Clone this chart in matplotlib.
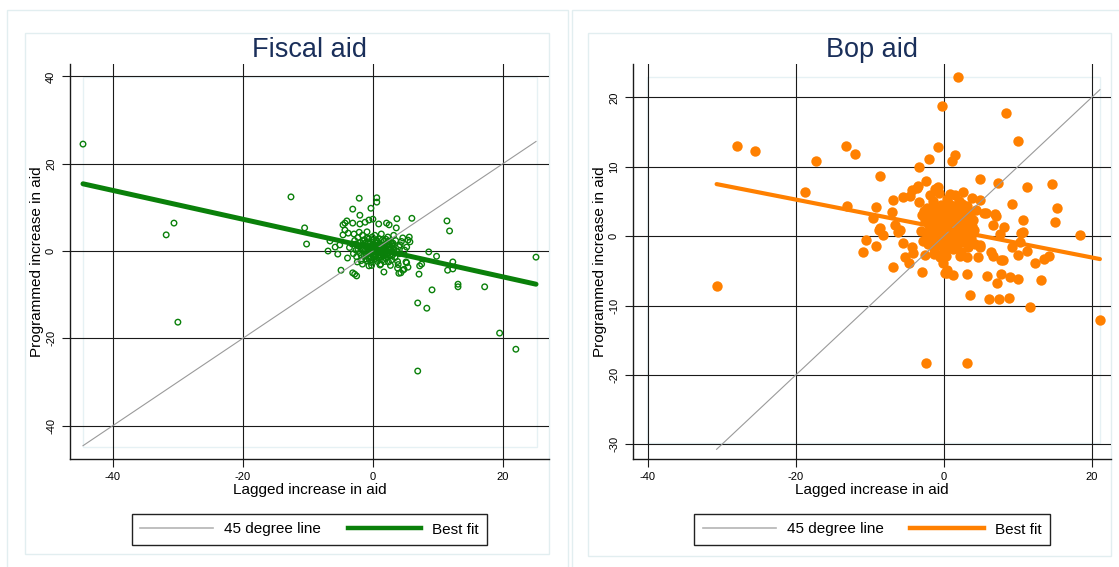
import matplotlib.pyplot as plt
from matplotlib.lines import Line2D
from matplotlib.patches import Rectangle

plt.rcParams['font.family'] = ['Liberation Sans', 'DejaVu Sans']
plt.rcParams['axes.unicode_minus'] = False

W, H = 1119, 567

# Fiscal aid: (lagged increase, programmed increase)
fiscal_outer = [
    (-44.6, 24.5), (-31.8, 3.7), (-30.6, 6.4), (-30.0, -16.3), (-12.6, 12.4),
    (-10.5, 5.3), (-10.2, 1.6), (-6.9, 0.0), (-5.8, 0.9), (-5.4, -0.7),
    (-4.9, -4.4), (-3.9, -1.6), (-3.1, -5.0), (-2.8, -5.3), (-2.5, -5.7),
    (-2.1, 12.1), (0.6, 12.2), (0.6, 11.2), (-3.1, 9.6), (-0.3, 9.8),
    (-2.0, 8.2), (6.0, 7.5), (3.7, 7.4), (11.4, 6.9), (11.8, 4.6),
    (8.6, -0.2), (9.8, -1.2), (12.3, -2.5), (11.5, -4.4), (12.3, -4.1),
    (7.1, -5.3), (13.1, -7.6), (13.1, -8.2), (9.1, -8.9), (17.2, -8.2),
    (6.9, -11.9), (8.3, -13.1), (19.5, -18.8), (22.0, -22.5), (6.9, -27.5),
    (25.1, -1.4), (1.7, -4.8), (4.0, -5.1), (4.6, -4.4), (5.2, -2.7),
    (5.4, 2.5), (5.6, 3.2), (5.2, 0.9), (7.5, -3.0), (7.2, -3.4),
    (4.8, -4.2), (5.7, 2.1), (-4.6, 6.0), (-4.3, 6.4), (-4.0, 6.9),
    (-3.1, 6.4), (-2.0, 6.2), (-1.2, 6.6), (-0.6, 7.1), (0.0, 7.3),
    (0.9, 6.2), (2.1, 6.4), (2.5, 6.0), (3.6, 5.3), (-4.3, 4.8),
    (-4.6, 3.7), (-3.8, 4.1), (-6.6, 2.3), (-5.1, 1.4), (-0.6, -3.4),
    (-0.2, -2.1), (1.1, -3.2), (3.8, -3.9), (4.3, -5.0), (5.4, -3.7),
    (5.1, -2.5), (4.2, 1.4), (4.6, 3.0), (4.9, 0.2), (2.9, 1.8),
]
fiscal_core = [
    (-2.8, 2.4), (-2.6, 0.2), (-2.5, -1.3), (-2.3, 3.1), (-2.2, 1.1), (-2.0, -0.4),
    (-1.9, 2.0), (-1.8, -2.2), (-1.7, 0.7), (-1.6, 3.6), (-1.5, 1.5), (-1.4, -0.9),
    (-1.3, 2.6), (-1.2, 0.1), (-1.1, -1.8), (-1.0, 1.2), (-0.9, 3.0), (-0.8, -0.3),
    (-0.7, 2.1), (-0.6, 0.6), (-0.5, -1.2), (-0.4, 1.7), (-0.3, -2.6), (-0.2, 0.3),
    (-0.1, 2.5), (0.0, -0.7), (0.1, 1.0), (0.2, -1.9), (0.3, 0.0), (0.4, 1.9),
    (0.5, -0.9), (0.6, 0.6), (0.7, -2.4), (0.8, 1.4), (0.9, -0.2), (1.0, 2.8),
    (1.1, -1.4), (1.2, 0.4), (1.3, -0.6), (1.4, 1.1), (1.5, -2.0), (1.6, 0.0),
    (1.7, 2.2), (1.8, -0.9), (1.9, 0.8), (2.0, -1.7), (2.1, 0.2), (2.2, 1.6),
    (2.3, -0.4), (2.4, -2.5), (2.5, 0.9), (2.6, -1.1), (2.7, 2.0), (2.8, -0.2),
    (2.9, -2.0), (3.0, 1.2), (3.1, -0.8), (3.2, 0.4), (3.4, -1.5), (3.5, 2.4),
    (3.7, 0.0), (3.8, -2.4), (4.0, 1.0), (4.1, -0.6), (-3.2, 1.6), (-3.0, -0.6),
    (-2.9, 3.9), (-2.1, 4.3), (-0.9, 4.4), (0.3, 3.6), (1.3, 3.9), (2.3, 3.2),
    (3.2, 3.6), (-1.6, -3.0), (-0.2, -3.3), (1.2, -3.0), (2.7, -3.3), (3.9, -3.1),
    (0.4, -1.3), (0.9, 0.9), (1.7, -0.3), (-0.3, 0.9), (0.6, 2.3), (1.1, 1.6),
    (-1.9, 1.2), (-1.0, -0.5), (2.0, 2.7), (-0.6, -1.8), (0.0, 0.4), (1.5, 0.6),
    (1.0, -0.9), (0.2, 1.5), (2.6, 0.5), (-0.4, -0.4), (-1.4, 0.4), (0.8, -0.4),
    (1.9, 1.3), (-2.4, -2.5), (4.4, 2.2), (-3.6, 0.8),
    (-1.6, 0.2), (-1.2, 1.8), (-0.8, 0.9), (-0.5, 0.0), (-0.2, 1.3), (0.1, -0.3),
    (0.4, 0.8), (0.7, 1.9), (1.0, 0.2), (1.3, 1.4), (1.6, -1.0), (1.9, 0.1),
    (2.2, -1.2), (2.5, 1.5), (2.8, 0.4), (3.1, 1.8), (-1.8, -1.0), (-1.1, -1.1),
    (-0.4, -1.6), (0.3, -1.1), (0.9, -1.6), (1.4, -0.2), (2.1, -0.8), (2.9, -1.1),
    (-2.3, 0.5), (-1.5, 2.4), (-0.6, 2.8), (0.5, 2.6), (1.5, 2.6), (2.4, 2.3),
    (-0.9, -2.2), (0.6, -1.9), (1.8, -2.4), (3.3, -0.3), (-2.6, 1.6), (-0.1, 3.2),
    (0.8, 0.1), (-0.3, -0.2), (1.2, 1.0), (2.0, 0.6),
]
fiscal_fit_x = [-44.6, 25.1]
fiscal_fit_y = [15.4, -7.6]

# Balance of payments aid
bop_outer = [
    (-30.7, -7.2), (-28.0, 13.0), (-25.5, 12.2), (-18.8, 6.3), (-17.3, 10.8),
    (-13.2, 13.0), (-13.1, 4.3), (-12.0, 11.8), (1.9, 22.9), (-0.3, 18.7),
    (8.4, 17.7), (10.0, 13.7), (-0.8, 12.8), (-2.0, 11.1), (-3.4, 10.0),
    (1.1, 10.8), (1.5, 11.7), (-8.6, 8.6), (4.9, 8.2), (7.3, 7.6),
    (11.2, 7.1), (14.6, 7.5), (9.2, 4.6), (15.3, 4.0), (15.0, 2.0),
    (10.7, 2.3), (10.7, 0.6), (18.4, 0.1), (-9.1, 4.2), (-9.6, 2.6),
    (-8.8, 0.9), (-8.2, 0.1), (-10.5, -0.6), (-9.2, -1.4), (-10.9, -2.3),
    (-6.9, -4.5), (-5.3, -3.0), (-4.7, -3.9), (-3.0, -5.2), (0.1, -5.3),
    (1.2, -5.6), (0.4, -4.9), (3.1, -5.5), (3.5, -8.5), (6.1, -9.1),
    (7.4, -9.1), (8.8, -8.9), (11.6, -10.2), (13.2, -6.3), (21.1, -12.1),
    (-2.4, -18.3), (3.2, -18.3), (13.5, -3.3), (14.2, -2.9), (12.3, -3.9),
    (11.2, -2.2), (10.0, -2.7), (9.2, -1.6), (7.8, -3.4), (6.6, -2.8),
    (6.4, -2.3), (4.6, -3.0), (5.9, -5.8), (7.2, -6.8), (7.8, -5.5),
    (8.9, -5.9), (10.0, -6.1), (10.3, -0.8), (10.4, 0.4), (8.1, 1.3),
    (7.0, 2.9), (5.7, 3.3), (6.6, 1.6), (7.6, 0.3), (4.9, 5.2),
    (3.8, 5.5), (2.6, 6.3), (1.5, 5.9), (-0.8, 7.1), (-2.4, 7.9),
    (-3.5, 7.2), (-4.3, 6.6), (-5.5, 5.6), (-6.9, 5.2), (-7.0, 3.5),
    (-6.6, 1.6), (-5.9, 0.9), (-5.5, -1.0), (-4.3, -1.6), (-4.2, -2.4),
    (-2.6, -2.7), (-0.5, -3.0), (-0.1, -3.9), (3.2, -3.0), (4.9, -1.3),
    (-3.6, 6.9), (-4.6, 5.8), (-8.6, 1.2), (-1.2, 6.8), (-6.2, 0.6),
    (0.5, -5.3), (-0.3, -2.5), (6.9, 3.2), (5.5, 3.3), (8.0, -3.5),
    (4.9, -1.6),
]
bop_core = [
    (-2.6, 2.3), (-2.4, 0.5), (-2.3, 4.1), (-2.1, -1.2), (-2.0, 1.6), (-1.8, 3.3),
    (-1.7, -0.1), (-1.5, 5.0), (-1.4, 2.0), (-1.3, -1.9), (-1.1, 0.9), (-1.0, 3.8),
    (-0.9, -0.8), (-0.7, 2.6), (-0.6, 1.1), (-0.4, 4.5), (-0.3, -1.4), (-0.2, 0.3),
    (0.0, 2.9), (0.1, -2.2), (0.2, 1.7), (0.4, 5.3), (0.5, 0.0), (0.6, 3.5),
    (0.8, -1.0), (0.9, 2.2), (1.0, 0.8), (1.2, 4.3), (1.3, -1.8), (1.4, 1.4),
    (1.6, 3.0), (1.7, -0.4), (1.9, 2.1), (2.0, 5.0), (2.1, 0.5), (2.3, -2.3),
    (2.4, 3.7), (2.5, 1.2), (2.7, -0.9), (2.8, 2.6), (3.0, 0.1), (3.1, 4.3),
    (3.3, -1.6), (3.4, 1.8), (3.6, 3.1), (3.7, -0.2), (3.9, 2.4), (4.1, 0.9),
    (4.2, -1.1), (4.4, 3.8), (-3.0, 3.0), (-3.1, 0.8), (-2.8, -0.7), (-3.3, 4.9),
    (-1.9, 6.0), (-0.7, 6.2), (0.9, 6.1), (2.2, -2.9), (0.3, -2.9), (-1.3, -2.6),
    (1.0, 1.9), (0.3, 0.9), (1.8, 0.9), (-0.5, 1.9), (2.8, 0.9), (0.7, 2.9),
    (-1.0, 1.5), (1.5, -0.9), (-0.2, 3.6), (1.7, 3.9),
    (-2.0, 0.4), (-1.5, 1.2), (-1.2, 2.9), (-0.8, 0.2), (-0.3, 1.1), (0.1, 4.0),
    (0.5, 1.3), (0.9, -0.2), (1.3, 2.7), (1.8, -1.5), (2.2, 1.8), (2.6, -0.2),
    (3.1, 2.9), (3.5, 0.6), (-2.7, 3.6), (-1.6, 4.2), (-0.4, -0.5), (0.7, 4.6),
    (2.5, 4.6), (3.8, 1.4), (-0.1, -1.0), (1.1, -1.1), (0.0, 2.2), (1.4, 0.4),
    (2.0, 3.1), (-1.1, -0.3), (-2.2, 2.9), (3.3, 3.6),
]
bop_fit_x = [-30.7, 21.1]
bop_fit_y = [7.5, -3.3]

titles = ["Fiscal aid", "Bop aid"]
x_label = "Lagged increase in aid"
y_label = "Programmed increase in aid"
legend_labels = ["45 degree line", "Best fit"]

GREEN = "#0a800a"
ORANGE = "#ff8000"
NAVY = "#1a2f5a"
GRAY45 = "#9a9a9a"
FRAME = "#e2eef0"

fig = plt.figure(figsize=(W / 100, H / 100), dpi=100)
fig.patch.set_facecolor("white")


def box(x0, y0, x1, y1, color=FRAME, lw=1.0):
    fig.add_artist(Rectangle((x0 / W, 1 - y1 / H), (x1 - x0) / W, (y1 - y0) / H,
                             transform=fig.transFigure, fill=False,
                             edgecolor=color, linewidth=lw, zorder=0))


def panel(px, xlim, ylim, xticks, yticks, points, fit_x, fit_y, color, hollow,
          title, region, inner):
    l, t, r, b = px
    ax = fig.add_axes([l / W, 1 - b / H, (r - l) / W, (b - t) / H])
    ax.set_facecolor("none")
    ax.set_xlim(*xlim)
    ax.set_ylim(*ylim)
    ax.set_xticks(xticks)
    ax.set_yticks(yticks)
    ax.grid(True, color="#1a1a1a", linewidth=0.8)
    ax.set_axisbelow(True)
    for s in ("top", "right"):
        ax.spines[s].set_visible(False)
    for s in ("left", "bottom"):
        ax.spines[s].set_linewidth(1.0)
        ax.spines[s].set_color("#1a1a1a")
    ax.tick_params(length=5.5, width=0.8, color="#1a1a1a", labelsize=8, pad=4)
    ax.tick_params(axis="y", labelrotation=90, pad=4.5)
    for lab in ax.get_yticklabels():
        lab.set_va("center")

    xs = [p[0] for p in points]
    ys = [p[1] for p in points]
    if hollow:
        ax.scatter(xs, ys, s=16, facecolors="none", edgecolors=color,
                   linewidths=1.0, zorder=3)
    else:
        ax.scatter(xs, ys, s=56, color=color, linewidths=0, zorder=3)

    line_x = [min(xs), max(xs)]
    ax.plot(line_x, line_x, color=GRAY45, linewidth=0.8, zorder=4)
    ax.plot(fit_x, fit_y, color=color, linewidth=3.6 if hollow else 3.0,
            solid_capstyle="round", zorder=5)

    ax.set_xlabel(x_label, fontsize=11)
    ax.xaxis.set_label_coords(0.5, -0.062)
    ax.set_ylabel(y_label, fontsize=11)
    ax.yaxis.set_label_coords(-26 / (r - l), 0.5)

    cx = (l + r) / 2
    fig.text(cx / W, 1 - 57 / H, title, ha="center", va="baseline",
             fontsize=19.5, color=NAVY)

    handles = [Line2D([], [], color="#b4b4b4", linewidth=1.2),
               Line2D([], [], color=color, linewidth=3.2)]
    leg = fig.legend(handles, legend_labels, loc="center", ncol=2,
                     bbox_to_anchor=(cx / W, 1 - 529.5 / H),
                     bbox_transform=fig.transFigure, fontsize=11,
                     frameon=True, fancybox=False, framealpha=1,
                     edgecolor="#222222", handlelength=4.8,
                     handletextpad=0.72, columnspacing=1.75, borderpad=0.55)
    leg.get_frame().set_linewidth(1.0)

    box(*region)
    box(*inner, color="#e6f1f4")
    return ax


# outer graph frames and separator
box(7, 10, 568, 570)
box(572, 10, 1125, 570)

panel((70, 64, 549, 459), (-46.6, 27.1), (-47.65, 42.85), [-40, -20, 0, 20],
      [-40, -20, 0, 20, 40], fiscal_outer + fiscal_core, fiscal_fit_x,
      fiscal_fit_y, GREEN, True, titles[0], (25, 33, 549, 554),
      (83, 77, 537, 447))

panel((633, 64, 1111, 459), (-42.0, 22.6), (-32.1, 24.8), [-40, -20, 0, 20],
      [-30, -20, -10, 0, 10, 20], bop_outer + bop_core, bop_fit_x,
      bop_fit_y, ORANGE, False, titles[1], (588, 33, 1111, 556),
      (647, 77, 1100, 443))

fig.savefig("out.png", dpi=100)
